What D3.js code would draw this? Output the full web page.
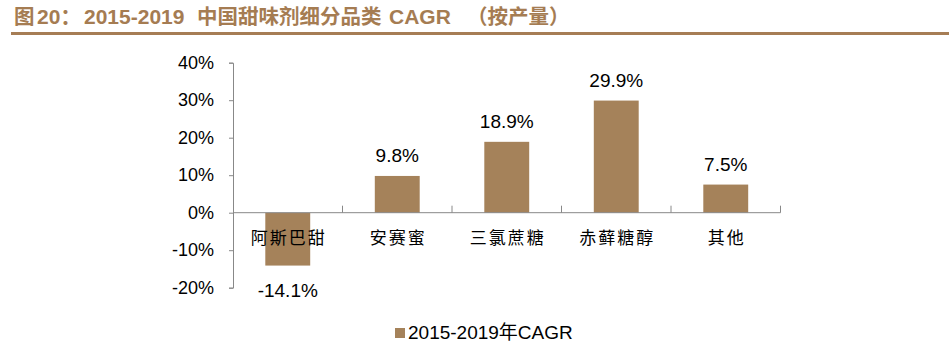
<!DOCTYPE html>
<html>
<head>
<meta charset="utf-8">
<script src="https://cdn.jsdelivr.net/npm/d3@7"></script>
<style>
  body { margin: 0; background: #fff; }
  svg { display: block; }
</style>
</head>
<body>
<svg width="949" height="362"></svg>
<script>
// data
const categories = ["阿斯巴甜", "安赛蜜", "三氯蔗糖", "赤藓糖醇", "其他"];
const cagr = [-14.1, 9.8, 18.9, 29.9, 7.5];
const yTicks = [-20, -10, 0, 10, 20, 30, 40];
const seriesName = "2015-2019年CAGR";
// title pieces (CJK / latin runs)
const titleParts = [
    { t: "图", x: 14, latin: false },
    { t: "20：", x: 37, latin: true },
    { t: "2015-2019", x: 84, latin: true },
    { t: "中国甜味剂细分品类", x: 197, latin: false },
    { t: "CAGR", x: 389, latin: true },
    { t: "（按产量）", x: 467, latin: false }
];

const svg = d3.select("svg");
const barColor = "#a5825a";
const axisColor = "#888";
const latin = "'Liberation Sans', Arial, sans-serif";
const mixed = "'Liberation Sans', 'Noto Sans CJK SC', sans-serif";
const cjk = "'Noto Sans CJK SC', 'Liberation Sans', sans-serif";

// title + rule
const title = svg.append("text")
    .attr("y", 24)
    .style("font-family", mixed)
    .style("font-weight", "bold")
    .style("fill", "#a57c52");
title.selectAll("tspan")
    .data(titleParts)
    .enter()
    .append("tspan")
    .attr("x", d => d.x)
    .style("font-size", d => d.latin ? "21px" : "20.5px")
    .text(d => d.t);

svg.append("line")
    .attr("x1", 11).attr("x2", 949)
    .attr("y1", 33.5).attr("y2", 33.5)
    .style("stroke", "#a67d55")
    .style("stroke-width", 3);

// scales
const x = d3.scaleBand()
    .domain(categories)
    .range([233, 780.5])
    .paddingInner(0.59)
    .paddingOuter(0.295);

const y = d3.scaleLinear()
    .domain([-20, 40])
    .range([287.7, 62.7]);

const g = svg.append("g");

// bars
g.selectAll("rect.bar")
    .data(cagr)
    .enter()
    .append("rect")
    .attr("class", "bar")
    .attr("x", (d, i) => x(categories[i]))
    .attr("y", d => y(Math.max(0, d)))
    .attr("width", x.bandwidth())
    .attr("height", d => Math.abs(y(d) - y(0)))
    .style("fill", barColor);

// y axis
const yAxis = g.append("g")
    .attr("transform", "translate(233,0)")
    .call(d3.axisLeft(y).tickValues(yTicks).tickSize(4).tickPadding(15)
        .tickFormat(d => d + "%"));
yAxis.select(".domain").style("stroke", axisColor);
yAxis.selectAll(".tick line").style("stroke", axisColor);
yAxis.selectAll("text")
    .style("font-family", latin)
    .style("font-size", "18px")
    .style("fill", "#000");

// x axis at zero, ticks at band boundaries pointing up
const bounds = categories.map(c => x(c) - x.step() * x.paddingInner() / 2)
    .concat([x.range()[1]]);
const xg = g.append("g");
xg.append("line")
    .attr("x1", x.range()[0]).attr("x2", x.range()[1])
    .attr("y1", y(0)).attr("y2", y(0))
    .style("stroke", axisColor);
xg.selectAll("line.tk")
    .data(bounds.slice(1))
    .enter()
    .append("line")
    .attr("class", "tk")
    .attr("x1", d => d).attr("x2", d => d)
    .attr("y1", y(0)).attr("y2", y(0) - 7)
    .style("stroke", axisColor);

// category labels
g.selectAll("text.cat")
    .data(categories)
    .enter()
    .append("text")
    .attr("class", "cat")
    .attr("x", d => x(d) + x.bandwidth() / 2 + 1)
    .attr("y", y(0) + 31)
    .attr("text-anchor", "middle")
    .style("font-family", cjk)
    .style("font-size", "17px")
    .style("letter-spacing", "2px")
    .style("fill", "#000")
    .text(d => d);

// value labels
g.selectAll("text.val")
    .data(cagr)
    .enter()
    .append("text")
    .attr("class", "val")
    .attr("x", (d, i) => x(categories[i]) + x.bandwidth() / 2)
    .attr("y", d => d >= 0 ? y(d) - 14 : y(d) + 31)
    .attr("text-anchor", "middle")
    .style("font-family", latin)
    .style("font-size", "19px")
    .style("fill", "#000")
    .text(d => d.toFixed(1) + "%");

// legend
const leg = svg.append("g").attr("transform", "translate(395,328)");
leg.append("rect")
    .attr("width", 10).attr("height", 10)
    .style("fill", barColor);
leg.append("text")
    .attr("x", 13)
    .attr("y", 11)
    .style("font-family", mixed)
    .style("font-size", "19px")
    .style("fill", "#000")
    .text(seriesName);
</script>
</body>
</html>
